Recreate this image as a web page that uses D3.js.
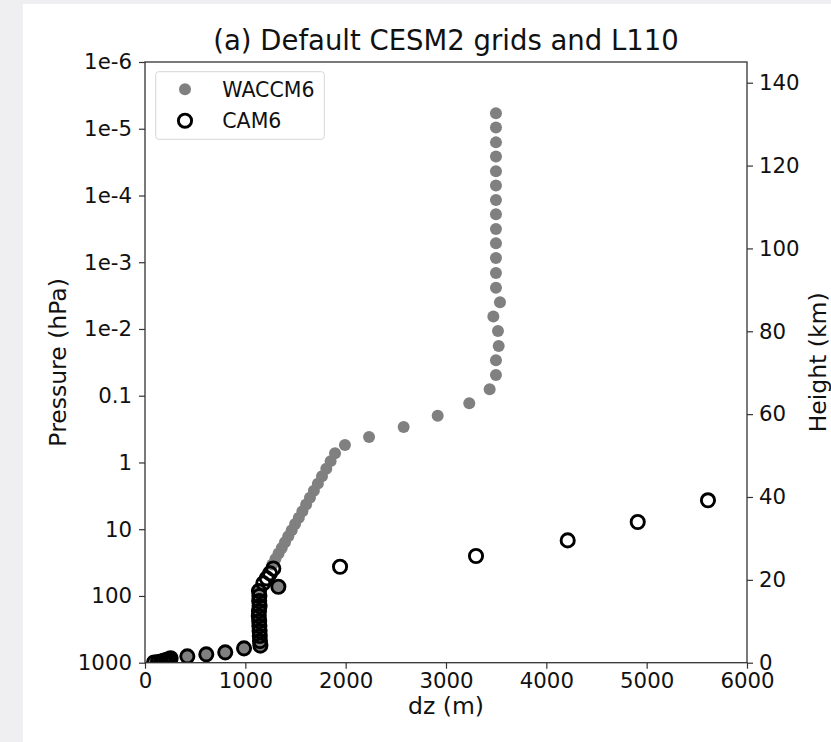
<!DOCTYPE html>
<html>
<head>
<meta charset="utf-8">
<script src="https://cdn.jsdelivr.net/npm/d3@7"></script>
<style>
  html, body { margin: 0; padding: 0; background: #efeff1; }
  svg { display: block; }
  text { font-family: "DejaVu Sans", sans-serif; fill: #111; }
</style>
</head>
<body>
<svg id="chart" width="831" height="742"></svg>
<script>
// ---------------- DATA ----------------
const titleText = "(a) Default CESM2 grids and L110";
const seriesNames = ["WACCM6", "CAM6"];

// WACCM6 grid: layer thickness dz (m) and pressure (hPa)
const waccmDz = [3498, 3498, 3498, 3498, 3498, 3498, 3498, 3498, 3498, 3498,
  3498, 3498, 3498, 3538, 3472, 3518, 3525, 3498, 3498, 3435,
  3232, 2917, 2578, 2233, 1993, 1894, 1850, 1807, 1764, 1723,
  1683, 1644, 1606, 1569, 1533, 1496, 1462, 1428, 1395, 1363,
  1331, 1300, 1270, 1329,
  1136, 1140, 1138, 1142, 1136, 1134, 1138, 1140, 1142, 1144, 1146, 1150,
  987, 800, 611, 422,
  255, 235, 210, 185, 160, 130, 90];
const waccmP = [5.88e-6, 9.6e-6, 1.6e-5, 2.6e-5, 4.35e-5, 7.1e-5, 1.17e-4, 1.91e-4, 3.18e-4, 5.2e-4,
  8.65e-4, 1.45e-3, 2.41e-3, 3.99e-3, 6.5e-3, 0.0107, 0.018, 0.0295, 0.049, 0.080,
  0.130, 0.20, 0.294, 0.416, 0.548, 0.730, 0.955, 1.245, 1.614, 2.075,
  2.651, 3.376, 4.27, 5.36, 6.71, 8.36, 10.36, 12.74, 15.62, 19.08,
  23.14, 27.98, 33.71, 72.8,
  84.4, 99.9, 119.2, 141.6, 168.3, 200, 237.7, 282.5, 335.7, 399, 474.3, 553.9,
  609.5, 699.8, 749.6, 803,
  859.5, 887, 912.6, 936.2, 957.5, 976.3, 992.6];

// CAM6 grid
const camDz = [5611, 4911, 4213, 3299, 1944, 1279, 1246, 1213, 1179, 1329,
  1136, 1140, 1138, 1142, 1136, 1134, 1138, 1140, 1142, 1144, 1146, 1150,
  987, 800, 611, 422,
  255, 235, 210, 185, 160, 130, 90];
const camP = [3.69, 7.8, 14.7, 25.2, 36.5, 38.8, 45.8, 54.5, 64.7, 72.8,
  84.4, 99.9, 119.2, 141.6, 168.3, 200, 237.7, 282.5, 335.7, 399, 474.3, 553.9,
  609.5, 699.8, 749.6, 803,
  859.5, 887, 912.6, 936.2, 957.5, 976.3, 992.6];

// Axis ticks
const xTicks = [0, 1000, 2000, 3000, 4000, 5000, 6000];
const pTicks = [1e-6, 1e-5, 1e-4, 1e-3, 1e-2, 0.1, 1, 10, 100, 1000];
const pTickLabels = ["1e-6", "1e-5", "1e-4", "1e-3", "1e-2", "0.1", "1", "10", "100", "1000"];
const hTicks = [0, 20, 40, 60, 80, 100, 120, 140];
const xLabel = "dz (m)";
const yLabel = "Pressure (hPa)";
const y2Label = "Height (km)";

// ---------------- LAYOUT ----------------
const svg = d3.select("#chart");
const L = 145, R = 747, T = 62, B = 662.7;

svg.append("rect").attr("x", 23).attr("y", 4).attr("width", 808).attr("height", 738).attr("fill", "#fff");

const x = d3.scaleLinear().domain([0, 6000]).range([L, R]);
const y = d3.scaleLog().domain([1e-6, 1000]).range([T, B]);
const y2 = d3.scaleLinear().domain([0, 145]).range([B, T]);

const tickFont = 21.3;
const axisColor = "#333";
const ringR = 6.6, ringW = 2.9, dotR = 6.0;

// clip
svg.append("defs").append("clipPath").attr("id", "plotclip")
  .append("rect").attr("x", L).attr("y", T).attr("width", R - L).attr("height", B - T);

// data
const gData = svg.append("g").attr("clip-path", "url(#plotclip)");
const waccm = waccmDz.map((d, i) => ({dz: d, p: waccmP[i]}));
const cam = camDz.map((d, i) => ({dz: d, p: camP[i]}));

gData.selectAll("circle.w").data(waccm).enter().append("circle")
  .attr("class", "w")
  .attr("cx", d => x(d.dz)).attr("cy", d => y(d.p)).attr("r", dotR)
  .attr("fill", "#808080");

gData.selectAll("circle.c").data(cam).enter().append("circle")
  .attr("class", "c")
  .attr("cx", d => x(d.dz)).attr("cy", d => y(d.p)).attr("r", ringR)
  .attr("fill", "none").attr("stroke", "#000").attr("stroke-width", ringW);

// axes
function styleAxis(g) {
  g.selectAll("path").remove();
  g.selectAll("line").attr("stroke", axisColor).attr("stroke-width", 1.2);
  g.selectAll("text").style("font-size", tickFont + "px").attr("fill", "#111");
}

const xAxis = d3.axisBottom(x).tickValues(xTicks).tickFormat(d3.format("d")).tickSize(6).tickPadding(4);
svg.append("g").attr("transform", `translate(0,${B})`).call(xAxis).call(styleAxis)
  .selectAll("text").attr("dy", "0.74em");

const yAxis = d3.axisLeft(y).tickValues(pTicks).tickFormat((d, i) => pTickLabels[i]).tickSize(6).tickPadding(7);
svg.append("g").attr("transform", `translate(${L},0)`).call(yAxis).call(styleAxis);

const y2Axis = d3.axisRight(y2).tickValues(hTicks).tickFormat(d3.format("d")).tickSize(6).tickPadding(6);
svg.append("g").attr("transform", `translate(${R},0)`).call(y2Axis).call(styleAxis);

// frame
svg.append("rect").attr("x", L).attr("y", T).attr("width", R - L).attr("height", B - T)
  .attr("fill", "none").attr("stroke", axisColor).attr("stroke-width", 1.3);

// title and labels
svg.append("text").attr("x", (L + R) / 2).attr("y", 50).attr("text-anchor", "middle")
  .style("font-size", "27.5px").text(titleText);
svg.append("text").attr("x", (L + R) / 2).attr("y", 714).attr("text-anchor", "middle")
  .style("font-size", "23.5px").text(xLabel);
svg.append("text").attr("transform", `translate(66,${(T + B) / 2}) rotate(-90)`).attr("text-anchor", "middle")
  .style("font-size", "23.5px").text(yLabel);
svg.append("text").attr("transform", `translate(826,${(T + B) / 2}) rotate(-90)`).attr("text-anchor", "middle")
  .style("font-size", "23.5px").text(y2Label);

// legend
const lg = svg.append("g");
lg.append("rect").attr("x", 155.7).attr("y", 71.7).attr("width", 168.6).attr("height", 67.6)
  .attr("rx", 3).attr("fill", "#fff").attr("fill-opacity", 0.8)
  .attr("stroke", "#d6d6d6").attr("stroke-width", 1);
lg.append("circle").attr("cx", 185).attr("cy", 89.3).attr("r", dotR).attr("fill", "#808080");
lg.append("circle").attr("cx", 185).attr("cy", 120.7).attr("r", ringR)
  .attr("fill", "none").attr("stroke", "#000").attr("stroke-width", ringW);
lg.append("text").attr("x", 222.3).attr("y", 96.7).style("font-size", "20.5px").text(seriesNames[0]);
lg.append("text").attr("x", 222.3).attr("y", 127.7).style("font-size", "20.5px").text(seriesNames[1]);
</script>
</body>
</html>
